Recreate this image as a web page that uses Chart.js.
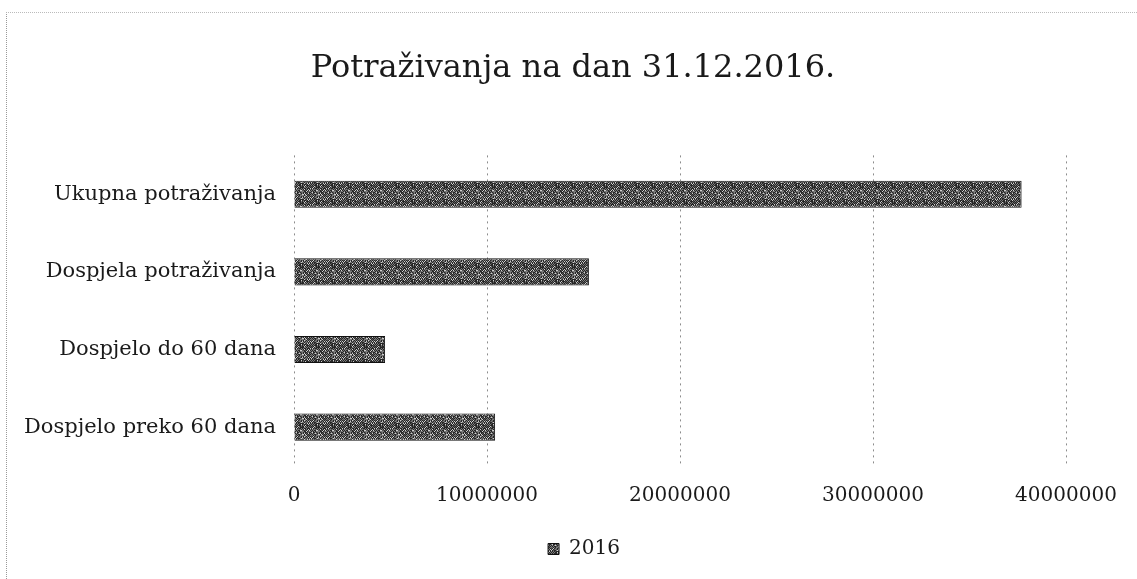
<!DOCTYPE html>
<html>
<head>
<meta charset="utf-8">
<title>Potraživanja na dan 31.12.2016.</title>
<script src="https://cdn.jsdelivr.net/npm/chart.js@4/dist/chart.umd.min.js"></script>
<style>
    html, body { margin: 0; padding: 0; background: #fff; }
    #wrap { position: relative; width: 1137px; height: 579px; }
    #frame {
        position: absolute; left: 6px; top: 12px; right: 0; bottom: 0;
        border-left: 1px dotted #999; border-top: 1px dotted #bbb;
        pointer-events: none;
    }
</style>
</head>
<body>
<div id="wrap">
    <div id="frame"></div>
    <canvas id="receivablesChart" width="1137" height="579"></canvas>
</div>
<script>
const categories = ['Ukupna potraživanja', 'Dospjela potraživanja', 'Dospjelo do 60 dana', 'Dospjelo preko 60 dana'];
const values2016 = [37700000, 15280000, 4720000, 10420000];
const seriesLabel = '2016';
const xTicks = [0, 10000000, 20000000, 30000000, 40000000];

const FONT = "'DejaVu Serif', 'Liberation Serif', serif";
const INK = '#1a1a1a';
const GRID = '#8c8c8c';

// speckled dark fill, like the scanned bars (fixed hash, not data)
function grainPattern(ctx) {
    const n = 16;
    const c = document.createElement('canvas');
    c.width = n; c.height = n;
    const p = c.getContext('2d');
    p.fillStyle = '#262626';
    p.fillRect(0, 0, n, n);
    for (let y = 0; y < n; y++) {
        for (let x = 0; x < n; x++) {
            let h = (x * 73856093) ^ (y * 19349663);
            h = ((h >>> 3) ^ (h * 31)) & 255;
            if (h < 60) { p.fillStyle = '#7a7a7a'; p.fillRect(x, y, 1, 1); }
            else if (h < 95) { p.fillStyle = '#cfcfcf'; p.fillRect(x, y, 1, 1); }
            else if (h < 130) { p.fillStyle = '#555'; p.fillRect(x, y, 1, 1); }
        }
    }
    return ctx.createPattern(c, 'repeat');
}

const ctx = document.getElementById('receivablesChart').getContext('2d');
new Chart(ctx, {
    type: 'bar',
    data: {
        labels: categories,
        datasets: [{
            label: seriesLabel,
            data: values2016,
            backgroundColor: grainPattern(ctx),
            borderColor: '#111',
            borderWidth: 1,
            categoryPercentage: 0.5,
            barPercentage: 0.7
        }]
    },
    options: {
        responsive: false,
        animation: false,
        indexAxis: 'y',
        layout: { padding: { left: 10, right: 71, top: 0, bottom: 10 } },
        plugins: {
            title: {
                display: true,
                text: 'Potraživanja na dan 31.12.2016.',
                color: INK,
                font: { family: FONT, size: 32, weight: 'normal' },
                padding: { top: 49, bottom: 68 }
            },
            legend: {
                position: 'bottom',
                labels: {
                    color: INK,
                    font: { family: FONT, size: 20 },
                    boxWidth: 11,
                    boxHeight: 11,
                    padding: 10
                }
            },
            tooltip: { enabled: false }
        },
        scales: {
            x: {
                min: 0,
                max: 40000000,
                afterBuildTicks: scale => { scale.ticks = xTicks.map(v => ({ value: v })); },
                afterFit: scale => { scale.height = 63; },
                ticks: {
                    color: INK,
                    padding: 18,
                    font: { family: FONT, size: 20 },
                    callback: v => String(v)
                },
                grid: { color: GRID, drawTicks: false, lineWidth: 1 },
                border: { display: false, dash: [2, 4] }
            },
            y: {
                afterFit: scale => { scale.width = 284; },
                ticks: {
                    color: INK,
                    padding: 18,
                    font: { family: FONT, size: 21 }
                },
                grid: { display: false, drawTicks: false },
                border: { display: false }
            }
        }
    },
    plugins: [{
        // title and legend sit a little right of the plot centre in the original
        id: 'boxShift',
        afterLayout(chart) {
            chart.titleBlock.left += 35;
            chart.titleBlock.right += 35;
            chart.legend.left += 46;
            chart.legend.right += 46;
        }
    }]
});
</script>
</body>
</html>
